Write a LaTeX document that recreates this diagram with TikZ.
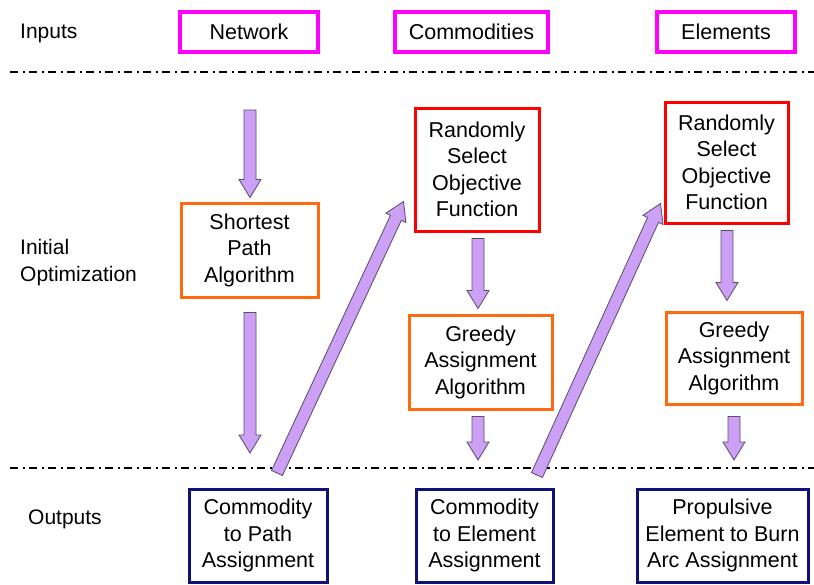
\documentclass[tikz,border=0pt]{standalone}
\usepackage{fontspec}
\setmainfont{Liberation Sans}
\usetikzlibrary{calc}
\definecolor{cmag}{HTML}{FF00FF}
\definecolor{cred}{HTML}{FF0000}
\definecolor{corange}{HTML}{FF6A10}
\definecolor{cnavy}{HTML}{10107A}
\definecolor{arrowfill}{HTML}{CBA0F5}
\definecolor{arrowline}{HTML}{5A4A66}
\tikzset{
  box/.style={draw, line width=3pt, fill=white, align=center, inner sep=0pt,
    font=\fontsize{21.5}{26.5}\selectfont},
  inbox/.style={box, draw=cmag, line width=3.5pt},
  redbox/.style={box, draw=cred},
  orbox/.style={box, draw=corange},
  outbox/.style={box, draw=cnavy},
  lbl/.style={anchor=west, align=left, inner sep=0pt, font=\fontsize{21}{27}\selectfont},
  blk/.style={fill=arrowfill, draw=arrowline, line width=0.8pt, line join=miter},
  sepline/.style={line width=1.6pt, dash pattern=on 8pt off 4.5pt on 2pt off 4.5pt},
}
\newcommand\blockarr[2]{%
  \coordinate (hb) at ($(#2)!18pt!(#1)$);
  \draw[blk] ($(#1)!6pt!90:(hb)$) -- ($(hb)!6pt!-90:(#1)$) -- ($(hb)!11pt!-90:(#1)$)
    -- (#2) -- ($(hb)!11pt!90:(#1)$) -- ($(hb)!6pt!90:(#1)$) -- ($(#1)!6pt!-90:(hb)$) -- cycle;}
\begin{document}
\begin{tikzpicture}[x=1pt,y=-1pt]
\useasboundingbox (0,0) rectangle (814,584);
\fill[white] (0,0) rectangle (814,584);
% separators
\draw[sepline] (10,72) -- (814,72);
\draw[sepline] (10,468) -- (814,468);
% labels
\node[lbl] (lin) at (20,33) {Inputs};
\node[lbl] (lopt) at (20,263) {Initial\\Optimization};
\node[lbl] (lout) at (28,519) {Outputs};
% inputs
\node[inbox, minimum width=138, minimum height=40] (net) at (249,32) {Network};
\node[inbox, minimum width=153, minimum height=40] (com) at (471.5,32) {Commodities};
\node[inbox, minimum width=138, minimum height=40] (ele) at (726,32) {Elements};
% middle
\node[orbox, minimum width=137, minimum height=94] (sp) at (249.5,250) {Shortest\\Path\\Algorithm};
\node[redbox, minimum width=124, minimum height=123] (rs1) at (477,169.5) {Randomly\\Select\\Objective\\Function};
\node[orbox, minimum width=143, minimum height=94] (g1) at (480.5,362) {Greedy\\Assignment\\Algorithm};
\node[redbox, minimum width=123, minimum height=121] (rs2) at (726.5,162.5) {Randomly\\Select\\Objective\\Function};
\node[orbox, minimum width=136, minimum height=92] (g2) at (734,358) {Greedy\\Assignment\\Algorithm};
% outputs
\node[outbox, minimum width=138, minimum height=93] (cp) at (258,535.5) {Commodity\\to Path\\Assignment};
\node[outbox, minimum width=137, minimum height=93] (ce) at (484.5,535.5) {Commodity\\to Element\\Assignment};
\node[outbox, minimum width=171, minimum height=93] (pe) at (722.5,535.5) {Propulsive\\Element to Burn\\Arc Assignment};
% arrow end points
\coordinate (a1s) at (250,110);
\coordinate (a1e) at ($(sp.north)+(0.5,-4)$);
\coordinate (a2s) at ($(sp.south)+(0.5,14)$);
\coordinate (a2e) at (250,453);
\coordinate (a3s) at ($(rs1.south)+(1,6)$);
\coordinate (a3e) at ($(g1.north)+(-2.5,-5)$);
\coordinate (a4s) at ($(g1.south)+(-2.5,6)$);
\coordinate (a4e) at (478,460);
\coordinate (a5s) at ($(rs2.south)+(0.5,6)$);
\coordinate (a5e) at ($(g2.north)+(-7,-10)$);
\coordinate (a6s) at ($(g2.south)+(0,11)$);
\coordinate (a6e) at (734,460);
\coordinate (d1s) at (277,473);
\coordinate (d1e) at ($(rs1.south west)+(-10,-31)$);
\coordinate (d2s) at (537,475);
\coordinate (d2e) at ($(rs2.south west)+(-3,-21)$);
\blockarr{a1s}{a1e}
\blockarr{a2s}{a2e}
\blockarr{a3s}{a3e}
\blockarr{a4s}{a4e}
\blockarr{a5s}{a5e}
\blockarr{a6s}{a6e}
\blockarr{d1s}{d1e}
\blockarr{d2s}{d2e}
\end{tikzpicture}
\end{document}
